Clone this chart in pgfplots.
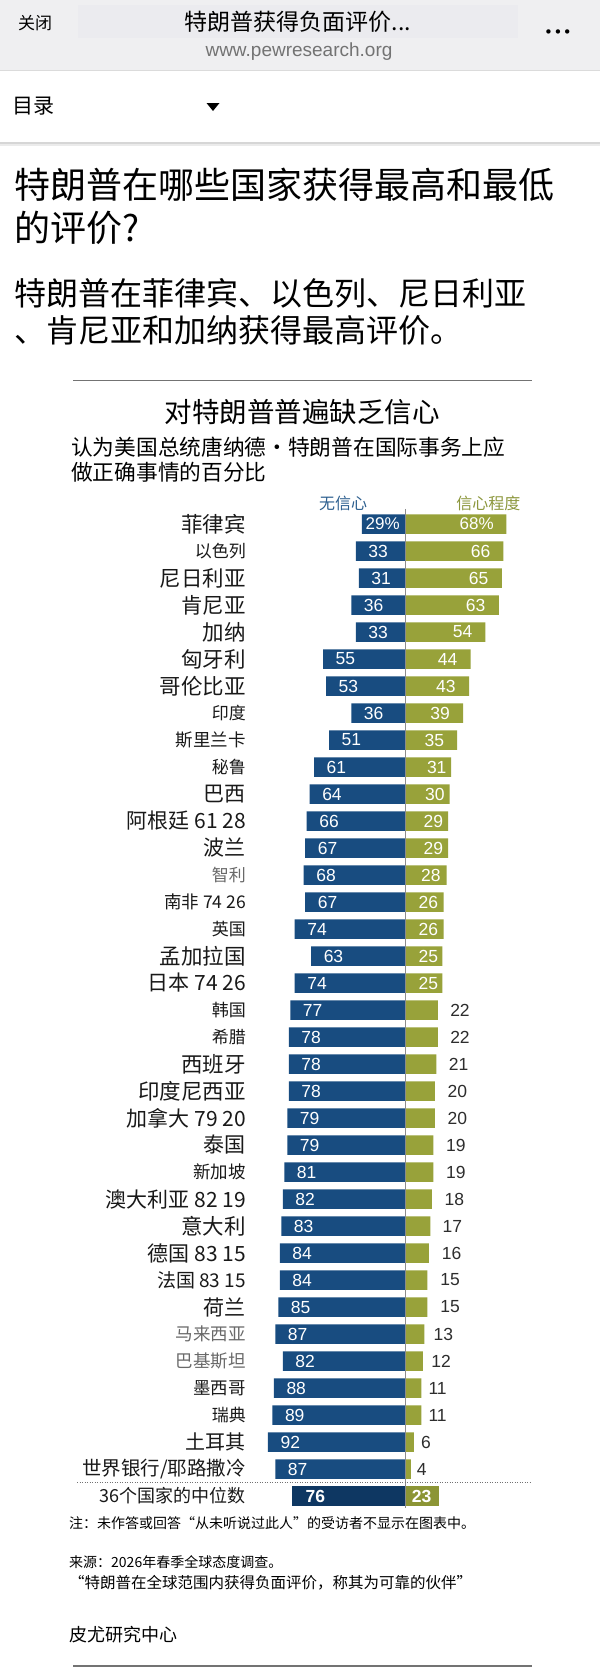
\documentclass[border=0pt]{standalone}
\usepackage{pgfplots}
\pgfplotsset{compat=1.18}
\usepackage{pgfplotstable}
\usepackage{fontspec}
\setmainfont{Noto Sans CJK SC}
\newfontfamily\numfont{Liberation Sans}
\newfontfamily\dejavu{DejaVu Sans}
\DeclareRobustCommand{\fs}[1]{\fontsize{#1}{#1}\selectfont}
\definecolor{pewblue}{RGB}{24,76,128}
\definecolor{pewnavy}{RGB}{14,55,98}
\definecolor{pewgreen}{RGB}{152,162,58}
\definecolor{legblue}{RGB}{45,95,143}
\definecolor{leggreen}{RGB}{140,151,60}
\definecolor{labgray}{RGB}{105,105,105}
\definecolor{outnum}{RGB}{45,45,45}
\definecolor{hdrgray}{RGB}{239,239,241}
\definecolor{hdrinner}{RGB}{235,235,239}

\pgfplotstableread{
y neg pos
0 29 68
1 33 66
2 31 65
3 36 63
4 33 54
5 55 44
6 53 43
7 36 39
8 51 35
9 61 31
10 64 30
11 66 29
12 67 29
13 68 28
14 67 26
15 74 26
16 63 25
17 74 25
18 77 22
19 78 22
20 78 21
21 78 20
22 79 20
23 79 19
24 81 19
25 82 18
26 83 17
27 84 16
28 84 15
29 85 15
30 87 13
31 82 12
32 88 11
33 89 11
34 92 6
35 87 4
}\bars

\pgfplotstableread{
y gx pos
1 50.8 66
2 49.4 65
3 47.4 63
4 38.7 54
5 28.6 44
6 27.5 43
7 23.5 39
8 19.7 35
9 21.3 31
10 20.1 30
11 19.0 29
12 19.0 29
13 17.4 28
14 15.7 26
15 15.7 26
16 15.7 25
17 15.7 25
}\gin

\pgfplotstableread{
y gx pos
18 36.9 22
19 36.9 22
20 36.0 21
21 35.1 20
22 35.1 20
23 34.2 19
24 34.2 19
25 33.1 18
26 31.8 17
27 31.3 16
28 30.2 15
29 30.2 15
30 25.7 13
31 24.2 12
32 21.9 11
33 21.9 11
34 14.1 6
35 11.2 4
}\gout

\begin{document}
\begin{tikzpicture}
\useasboundingbox (0pt,0pt) rectangle (600pt,-1673pt);
\fill[white] (0pt,0pt) rectangle (600pt,-1673pt);
% mobile header
\fill[hdrgray] (0pt,0pt) rectangle (600pt,-70pt);
\fill[hdrinner] (78pt,-5pt) rectangle (518pt,-38pt);
\draw[black!14, line width=1pt] (0pt,-70pt) -- (600pt,-70pt);
\node[anchor=center, inner sep=0pt, font=\fs{17}] at (35pt,-23pt) {关闭};
\node[anchor=center, inner sep=0pt, font=\fs{23}] at (298pt,-22pt) {特朗普获得负面评价...};
\node[anchor=center, inner sep=0pt, font={\numfont\fs{19}}, text=black!55] at (299pt,-52pt) {www.pewresearch.org};
\node[anchor=center, inner sep=0pt, font={\dejavu\fs{15}}] at (558pt,-34pt) {•\hspace{0.5pt}•\hspace{0.5pt}•};
\node[anchor=west, inner sep=0pt, font=\fs{21}] at (12pt,-106pt) {目录};
\fill (206.5pt,-103pt) -- (219.5pt,-103pt) -- (213pt,-111pt) -- cycle;
\fill[black!16] (0pt,-141.5pt) rectangle (600pt,-143.5pt);
\fill[black!8] (0pt,-143.5pt) rectangle (600pt,-145.5pt);
% headline
\node[anchor=west, inner sep=0pt, font=\fs{36}] at (14.5pt,-185pt) {特朗普在哪些国家获得最高和最低};
\node[anchor=west, inner sep=0pt, font=\fs{36}] at (14.5pt,-228pt) {的评价?};
\node[anchor=west, inner sep=0pt, font=\fs{32}] at (14.5pt,-293pt) {特朗普在菲律宾、以色列、尼日利亚};
\node[anchor=west, inner sep=0pt, font=\fs{32}] at (14.5pt,-330pt) {、肯尼亚和加纳获得最高评价。};
% chart frame texts
\draw[black!55, line width=1pt] (73pt,-380pt) -- (532pt,-380pt);
\node[anchor=center, inner sep=0pt, font=\fs{27.5}] at (302pt,-412pt) {对特朗普普遍缺乏信心};
\node[anchor=west, inner sep=0pt, font=\fs{21.7}] at (71pt,-447pt) {认为美国总统唐纳德・特朗普在国际事务上应};
\node[anchor=west, inner sep=0pt, font=\fs{21.7}] at (71pt,-472pt) {做正确事情的百分比};

\begin{axis}[
  at={(405pt,-524pt)}, anchor=origin,
  x=1.49pt, y=27pt, y dir=reverse,
  xmin=-106.7, xmax=90, ymin=-1, ymax=37,
  axis line style={draw=none}, major tick length=0pt,
  xtick=\empty, ytick={0,...,36},
  yticklabel style={anchor=east, inner sep=0pt, text=black!90},
  yticklabels={
   {\fs{21.5}菲律宾},
   {\fs{17}以色列},
   {\fs{21.5}尼日利亚},
   {\fs{21.5}肯尼亚},
   {\fs{21.5}加纳},
   {\fs{21.5}匈牙利},
   {\fs{21.5}哥伦比亚},
   {\fs{17}印度},
   {\fs{17.5}斯里兰卡},
   {\fs{17}秘鲁},
   {\fs{21}巴西},
   {\fs{21}阿根廷 61 28},
   {\fs{21}波兰},
   {\fs{17}\color{labgray}智利},
   {\fs{17.5}南非 74 26},
   {\fs{17}英国},
   {\fs{21.5}孟加拉国},
   {\fs{21}日本 74 26},
   {\fs{17}韩国},
   {\fs{17}希腊},
   {\fs{21.5}西班牙},
   {\fs{21.5}印度尼西亚},
   {\fs{21}加拿大 79 20},
   {\fs{21}泰国},
   {\fs{17.5}新加坡},
   {\fs{21}澳大利亚 82 19},
   {\fs{21.5}意大利},
   {\fs{21}德国 83 15},
   {\fs{19}法国 83 15},
   {\fs{21}荷兰},
   {\fs{17.5}\color{labgray}马来西亚},
   {\fs{17.5}\color{labgray}巴基斯坦},
   {\fs{17.5}墨西哥},
   {\fs{17}瑞典},
   {\fs{20}土耳其},
   {\fs{19.5}世界银行/耶路撒冷},
   {\fs{18}36个国家的中位数}
  },
  clip=false,
]
% bars
\addplot[xbar, bar width=19.5pt, bar shift=0pt, fill=pewblue, draw=none] table[x expr=-\thisrow{neg}, y=y] {\bars};
\addplot[xbar, bar width=19.5pt, bar shift=0pt, fill=pewgreen, draw=none] table[x=pos, y=y] {\bars};
\addplot[xbar, bar width=19.5pt, bar shift=0pt, fill=pewnavy, draw=none] coordinates {(-76,36)};
\addplot[xbar, bar width=19.5pt, bar shift=0pt, fill=pewgreen!92!black, draw=none] coordinates {(23,36)};
% center line and separator
\addplot[sharp plot, no marks, draw=black!45, line width=1pt] coordinates {(0,-0.56) (0,36.44)};
\addplot[sharp plot, no marks, draw=black!55, line width=0.9pt, dash pattern=on 1pt off 1.5pt] coordinates {(-220,35.48) (85.2,35.48)};
% legend texts
\node[anchor=center, inner sep=0pt, font=\fs{16}, text=legblue] at (axis cs:-41.6,-0.78) {无信心};
\node[anchor=center, inner sep=0pt, font=\fs{16}, text=leggreen] at (axis cs:56,-0.78) {信心程度};
% value labels
\addplot[only marks, mark=none, skip coords between index={0}{1},
  nodes near coords, point meta=explicit symbolic,
  nodes near coords style={anchor=center, inner sep=0pt, text=white, font={\numfont\fs{17.5}}}]
  table[x expr=-\thisrow{neg}+15, y=y, meta=neg] {\bars};
\addplot[only marks, mark=none,
  nodes near coords, point meta=explicit symbolic,
  nodes near coords style={anchor=center, inner sep=0pt, text=white, font={\numfont\fs{17.5}}}]
  table[x=gx, y=y, meta=pos] {\gin};
\addplot[only marks, mark=none,
  nodes near coords, point meta=explicit symbolic,
  nodes near coords style={anchor=center, inner sep=0pt, text=outnum, font={\numfont\fs{17.5}}}]
  table[x=gx, y=y, meta=pos] {\gout};
\addplot[only marks, mark=none,
  nodes near coords, point meta=explicit symbolic,
  nodes near coords style={anchor=center, inner sep=0pt, text=white, font={\numfont\fs{17}}}]
  coordinates {(-15,0) [29\%] (48.1,0) [68\%]};
\addplot[only marks, mark=none,
  nodes near coords, point meta=explicit symbolic,
  nodes near coords style={anchor=center, inner sep=0pt, text=white, font={\numfont\bfseries\fs{17.5}}}]
  coordinates {(-60.2,36) [76] (11.2,36) [23]};
\end{axis}

% notes
\node[anchor=west, inner sep=0pt, font=\fs{14}] at (69pt,-1523pt) {注：未作答或回答“从未听说过此人”的受访者不显示在图表中。};
\node[anchor=west, inner sep=0pt, font=\fs{14}] at (69pt,-1562pt) {来源：2026年春季全球态度调查。};
\node[anchor=west, inner sep=0pt, font=\fs{15.5}] at (69pt,-1583pt) {“特朗普在全球范围内获得负面评价，称其为可靠的伙伴”};
\node[anchor=west, inner sep=0pt, font=\fs{18}] at (69pt,-1635pt) {皮尤研究中心};
\draw[black!55, line width=1.2pt] (73pt,-1666pt) -- (532pt,-1666pt);
\end{tikzpicture}
\end{document}
